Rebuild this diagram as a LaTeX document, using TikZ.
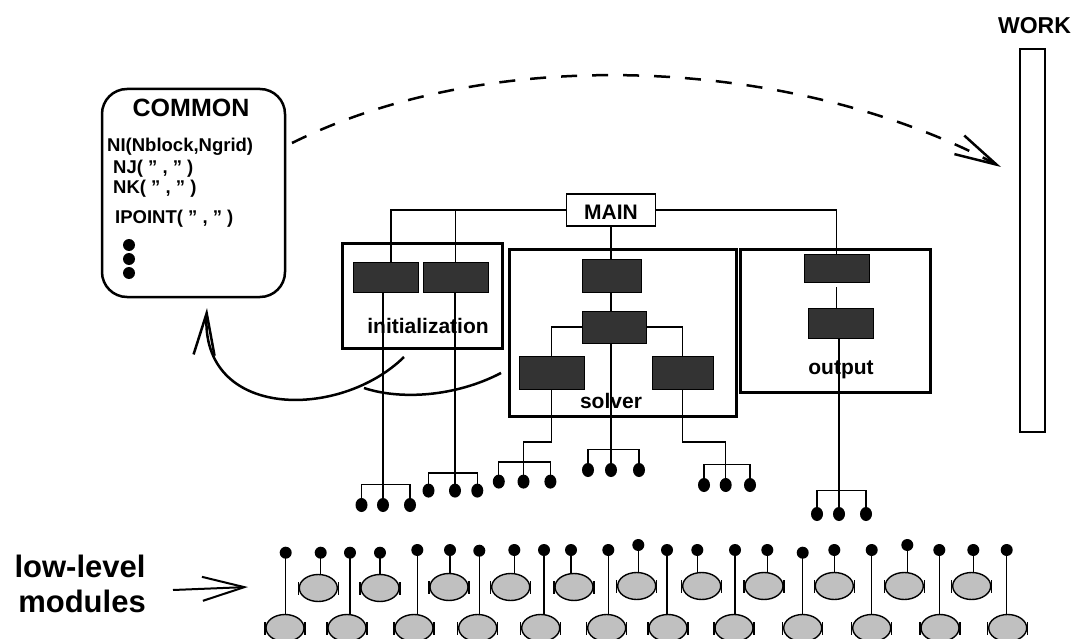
\documentclass[tikz,border=0pt]{standalone}
\usepackage{fontspec}
\setmainfont{Liberation Sans}
\usetikzlibrary{arrows.meta,shapes.geometric}
\definecolor{blk}{HTML}{333333}
\definecolor{modfill}{HTML}{C0C0C0}
\newcommand{\fs}[1]{\fontsize{#1}{#1}\selectfont\bfseries}
\newcommand{\qq}{\symbol{34}}
\newcommand{\leafgroup}[6]{%
  \node[leaf] (#1a) at (#2,#5) {};
  \node[leaf] (#1b) at (#3,#5) {};
  \node[leaf] (#1c) at (#4,#5) {};
  \draw[thinline] (#1a.center) -- (#2,#6) -- (#4,#6) -- (#1c.center);
}
\newcommand{\module}[5]{%
  \node[modbox] (#1e) at (#4,#5) {};
  \node[leaf,minimum width=12pt,minimum height=12pt] (#1d) at (#2,#3) {};
  \draw[thinline] (#1d.center) -- (#1d.center |- #1e.north);
  \draw[thinline] ([shift={(-0.3pt,-6.5pt)}]#1e.west) -- ([shift={(-0.3pt,6.5pt)}]#1e.west);
  \draw[thinline] ([shift={(0.3pt,-6.5pt)}]#1e.east) -- ([shift={(0.3pt,6.5pt)}]#1e.east);
}
\begin{document}
\begin{tikzpicture}[x=1pt,y=-1pt,
  thinline/.style={line width=1.3pt},
  frame/.style={draw, line width=3pt, inner sep=0pt},
  blkbox/.style={draw=black, fill=blk, line width=0.8pt, inner sep=0pt},
  leaf/.style={ellipse, fill=black, inner sep=0pt, minimum width=12pt, minimum height=14pt},
  modbox/.style={ellipse, draw, fill=modfill, line width=1.4pt, minimum width=38pt, minimum height=27pt, inner sep=0pt},
  lbl/.style={inner sep=0pt, font=\fs{21}},
  comtxt/.style={inner sep=0pt, anchor=base west, font=\fs{18.5}},
  barb/.style={line width=2.5pt, -{Straight Barb[length=42pt,width=21pt]}},
]
\useasboundingbox (0,0) rectangle (1076,639);

% COMMON block
\node[draw, line width=2.5pt, rounded corners=25pt, minimum width=183pt, minimum height=208pt, inner sep=0pt] (common) at (193.5,193) {};
\node[inner sep=0pt, anchor=base, font=\fs{25}] (comtitle) at (191,117) {COMMON};
\node[comtxt] (ni) at (107,152) {NI(Nblock,Ngrid)};
\node[comtxt] (nj) at (113,174) {NJ( \qq{} , \qq{} )};
\node[comtxt] (nk) at (113,194) {NK( \qq{} , \qq{} )};
\node[comtxt] (ip) at (115,224) {IPOINT( \qq{} , \qq{} )};
\node[leaf, minimum width=12pt, minimum height=12pt] (cd1) at (129,245) {};
\node[leaf, minimum width=12pt, minimum height=12pt] (cd2) at (129,259) {};
\node[leaf, minimum width=12pt, minimum height=12pt] (cd3) at (129,273) {};

% WORK
\node[inner sep=0pt, anchor=base, font=\fs{23}] (worklbl) at (1034.5,34) {WORK};
\node[draw, line width=2.5pt, minimum width=25pt, minimum height=383pt, inner sep=0pt] (work) at (1032.5,240.5) {};

% MAIN
\node[draw, line width=1.2pt, minimum width=89pt, minimum height=32pt, inner sep=0pt] (main) at (611,210) {};
\node[inner sep=0pt, anchor=base, font=\fs{21}] at (611,219) {MAIN};

% frames
\node[frame, minimum width=160pt, minimum height=105pt] (init) at (422,295.5) {};
\node[frame, minimum width=227pt, minimum height=167pt] (solver) at (622.5,332.5) {};
\node[frame, minimum width=190pt, minimum height=143pt] (output) at (835,320.5) {};

% blocks
\node[blkbox, minimum width=65pt, minimum height=30pt] (i1) at (385.5,277) {};
\node[blkbox, minimum width=65pt, minimum height=30pt] (i2) at (455.5,277) {};
\node[blkbox, minimum width=59pt, minimum height=33pt] (s1) at (611.5,275.5) {};
\node[blkbox, minimum width=64pt, minimum height=32pt] (s2) at (614,327) {};
\node[blkbox, minimum width=65pt, minimum height=33pt] (s3) at (551.5,372.5) {};
\node[blkbox, minimum width=61pt, minimum height=33pt] (s4) at (682.5,372.5) {};
\node[blkbox, minimum width=65pt, minimum height=28pt] (o1) at (836.5,268) {};
\node[blkbox, minimum width=65pt, minimum height=30pt] (o2) at (840.5,323) {};

% labels
\node[lbl, anchor=base] (initlbl) at (428,333) {initialization};
\node[lbl, anchor=base] (solverlbl) at (611,408) {solver};
\node[lbl, anchor=base] (outputlbl) at (841,374) {output};

% tree connectors
\draw[thinline] (main.west) -| ([xshift=5.5pt]i1.north);
\draw[thinline] (main.west -| i2.north) -- (i2.north);
\draw[thinline] (main.east) -| (o1.north);
\draw[thinline] (main.south) -- (main.south |- s1.north);
\draw[thinline] (s1.south -| main.south) -- (main.south |- s2.north);
\draw[thinline] (s2.west) -| (s3.north);
\draw[thinline] (s2.east) -| (s4.north);
\draw[thinline] ([yshift=-5pt]o1.south) -- (o1.south |- o2.north);

% leaf groups
\leafgroup{g1}{361.5}{383}{410}{505}{484.5}
\leafgroup{g2}{428.5}{455}{477.3}{490.6}{473}
\leafgroup{g3}{498.8}{523.5}{550.4}{481.6}{462}
\leafgroup{g4}{588}{611}{639}{470}{449.7}
\leafgroup{g5}{704}{725.7}{750}{485}{464.4}
\leafgroup{g6}{817}{839}{866}{514}{490.6}
\draw[thinline] (i1.south -| g1b) -- (g1b.center);
\draw[thinline] (i2.south -| g2b) -- (g2b.center);
\draw[thinline] (s3.south) -- ++(0,52.5) -| (g3b.center);
\draw[thinline] (s2.south -| g4b) -- (g4b.center);
\draw[thinline] (s4.south) -- ++(0,52.5) -| (g5b.center);
\draw[thinline] (o2.south -| g6b) -- (g6b.center);

% curved arrows
\coordinate (c1s) at (404,357);
\coordinate (c1e) at (207,308);
\draw[barb] (c1s) .. controls (340,420) and (200,420) .. (c1e);
\coordinate (c2s) at (501,373);
\coordinate (c2e) at (364,388);
\draw[line width=2.5pt] (c2s) .. controls (455,397) and (400,400) .. (c2e);

% dashed arrow to WORK
\coordinate (d1s) at (292,143);
\coordinate (d1e) at (1001,167);
\draw[barb, dash pattern=on 16pt off 15pt] (d1s) .. controls (500,40) and (800,60) .. (d1e);

% low-level modules
\module{m1}{285.7}{552.7}{285}{628}
\module{m2}{320.7}{552.7}{318.3}{588}
\module{m3}{350}{552.7}{347}{628}
\module{m4}{380}{552.7}{380}{588}
\module{m5}{417.3}{550}{414}{628}
\module{m6}{450}{550}{449}{587}
\module{m7}{479.3}{550.7}{477.7}{628}
\module{m8}{514.3}{550}{510.7}{587}
\module{m9}{544}{550}{540.7}{628}
\module{m10}{571}{550}{574}{587}
\module{m11}{608.3}{550}{606.7}{628}
\module{m12}{638.3}{545}{636.7}{586}
\module{m13}{667}{550}{668}{628}
\module{m14}{697.3}{550}{701.7}{586}
\module{m15}{735}{550}{734}{628}
\module{m16}{767.3}{550}{764}{586}
\module{m17}{802.7}{552.7}{802.7}{628}
\module{m18}{834.3}{550}{834.3}{586}
\module{m19}{871.7}{550}{871.7}{628}
\module{m20}{907.3}{545}{904.3}{586}
\module{m21}{939.3}{550}{940}{628}
\module{m22}{973.3}{550}{971.7}{586}
\module{m23}{1006.7}{550}{1007.7}{628}

% low-level label
\node[inner sep=0pt, anchor=base, font=\fs{31}] (ll1) at (80,577) {low-level};
\node[inner sep=0pt, anchor=base, font=\fs{31}] (ll2) at (82,612) {modules};
\coordinate (lla) at (173,590);
\coordinate (llb) at (248,587);
\draw[line width=2pt, -{Straight Barb[length=42pt,width=24pt]}] (lla) -- (llb);
\end{tikzpicture}
\end{document}
